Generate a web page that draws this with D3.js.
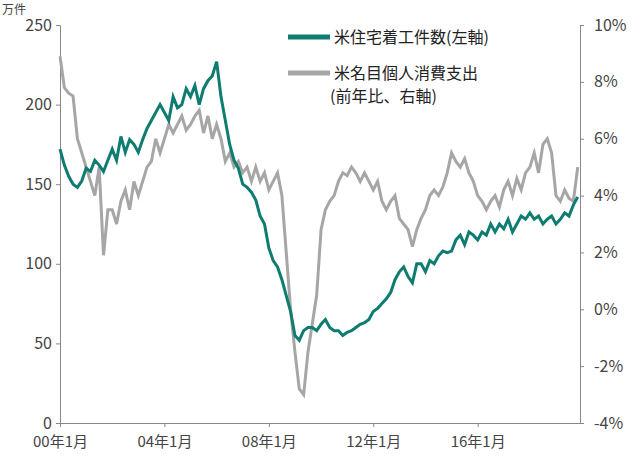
<!DOCTYPE html><html><head><meta charset="utf-8"><script src="https://cdn.jsdelivr.net/npm/d3@7"></script>
<style>body{margin:0;background:#fff}text{font-family:"Noto Sans CJK JP","Noto Sans",sans-serif}</style></head><body><svg id="c" width="640" height="456"></svg><script>
const startYear=2000, stepMonths=2;
const housing=[172,162,155,150,148,152, 160,158,165,162,158,165, 172,165,180,170,178,175, 170,178,185,190,195,200, 195,190,205,198,200,210, 205,212,200,210,215,218, 227,205,190,175,165,160, 150,148,145,140,130,125, 110,102,98,90,80,70, 55,52,58,60,60,58, 62,65,60,58,58,55, 57,58,60,62,63,65, 70,72,75,78,82,90, 95,98,92,88,100,100, 95,102,100,105,108,107, 108,115,118,112,120,118, 115,120,118,125,120,125, 122,128,120,125,130,128, 132,128,130,125,128,130, 125,128,132,130,137,142];
const consumption=[8.9,7.8,7.6,7.5,6.0,5.5, 5.0,4.5,4.0,5.0,1.9,3.5, 3.5,3.0,3.8,4.2,3.5,4.5, 4.0,4.5,5.0,5.2,6.0,5.5, 6.0,6.5,6.2,6.5,6.8,6.3, 6.5,6.8,7.0,6.2,6.8,6.0, 6.5,6.0,5.2,5.5,5.0,5.2, 4.8,5.0,4.5,5.0,4.5,4.8, 4.2,4.5,4.8,4.0,2.0,0.0, -1.5,-2.8,-3.0,-1.5,-0.5,0.5, 2.8,3.5,3.8,4.0,4.5,4.8, 4.7,5.0,4.8,4.5,4.8,4.5, 4.2,4.5,3.8,3.5,3.8,4.0, 3.2,3.0,2.8,2.2,2.8,3.2, 3.5,4.0,4.2,4.0,4.3,4.8, 5.5,5.2,5.0,5.3,4.8,4.5, 4.0,3.8,3.5,3.8,4.0,3.6, 4.2,4.5,4.0,4.6,4.2,4.8, 5.0,5.5,4.8,5.8,6.0,5.5, 4.0,3.8,4.2,3.9,3.8,5.0];
const xTickYears=[2000,2004,2008,2012,2016];
const xTickLabels=["00年1月","04年1月","08年1月","12年1月","16年1月"];
const leftTicks=[0,50,100,150,200,250];
const rightTicks=[-4,-2,0,2,4,6,8,10];
const legendLabels=["米住宅着工件数(左軸)","米名目個人消費支出","(前年比、右軸)"];

const svg=d3.select("#c");
const L=60,R=580,T=25,B=423;
const x=d3.scaleLinear().domain([2000,2019.92]).range([L,R]);
const yL=d3.scaleLinear().domain([0,250]).range([B,T]);
const yR=d3.scaleLinear().domain([-4,10]).range([B,T]);
const t=i=>startYear+i*stepMonths/12;
const ax="#888", tc="#444";
svg.append("g").attr("transform",`translate(${L},0)`).call(d3.axisLeft(yL).tickValues(leftTicks).tickSize(4).tickSizeOuter(0))
 .call(g=>{g.select(".domain").attr("stroke",ax);g.selectAll("line").attr("stroke",ax);g.selectAll("text").attr("fill",tc).attr("font-size",16).attr("x",-8);});
svg.append("g").attr("transform",`translate(${R},0)`).call(d3.axisRight(yR).tickValues(rightTicks).tickFormat(d=>d+"%").tickSize(4).tickSizeOuter(0))
 .call(g=>{g.select(".domain").attr("stroke",ax);g.selectAll("line").attr("stroke",ax);g.selectAll("text").attr("fill",tc).attr("font-size",16).attr("x",14);});
svg.append("g").attr("transform",`translate(0,${B})`).call(d3.axisBottom(x).tickValues(xTickYears).tickFormat((d,i)=>xTickLabels[i]).tickSize(4).tickSizeOuter(0))
 .call(g=>{g.select(".domain").attr("stroke",ax);g.selectAll("line").attr("stroke",ax);g.selectAll("text").attr("fill",tc).attr("font-size",15).attr("dy","1.15em");});
svg.append("text").attr("x",2).attr("y",14).attr("font-size",12).attr("fill",tc).text("万件");
svg.append("path").datum(consumption).attr("fill","none").attr("stroke","#a6a6a6").attr("stroke-width",3)
 .attr("d",d3.line().x((d,i)=>x(t(i))).y(d=>yR(d)));
svg.append("path").datum(housing).attr("fill","none").attr("stroke","#0e7c70").attr("stroke-width",3)
 .attr("d",d3.line().x((d,i)=>x(t(i))).y(d=>yL(d)));
const lg=svg.append("g");
lg.append("line").attr("x1",288).attr("x2",330).attr("y1",37).attr("y2",37).attr("stroke","#0e7c70").attr("stroke-width",5);
lg.append("line").attr("x1",288).attr("x2",330).attr("y1",73).attr("y2",73).attr("stroke","#a6a6a6").attr("stroke-width",5);
lg.append("text").attr("x",334).attr("y",43).attr("font-size",16).attr("fill","#222").text(legendLabels[0]);
lg.append("text").attr("x",334).attr("y",79).attr("font-size",16).attr("fill","#222").text(legendLabels[1]);
lg.append("text").attr("x",330).attr("y",102).attr("font-size",16).attr("fill","#222").text(legendLabels[2]);
</script></body></html>
